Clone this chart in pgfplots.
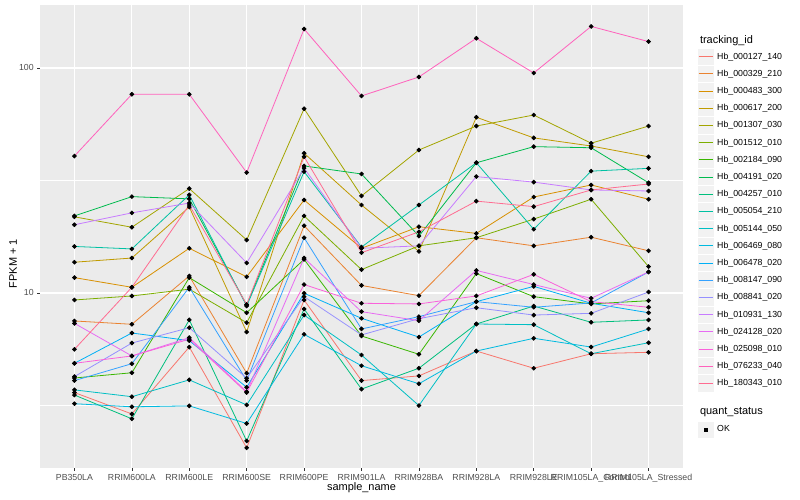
\documentclass[border=0pt]{standalone}
\usepackage{pgfplots}
\pgfplotsset{compat=1.18}
\usepackage{pgfplotstable}
\usepackage{fontspec}
\setmainfont{Liberation Sans}

% ggplot hue palette, 20 groups
\definecolor{cA}{HTML}{F8766D}
\definecolor{cB}{HTML}{EA8331}
\definecolor{cC}{HTML}{D89000}
\definecolor{cD}{HTML}{C09B00}
\definecolor{cE}{HTML}{A3A500}
\definecolor{cF}{HTML}{7CAE00}
\definecolor{cG}{HTML}{39B600}
\definecolor{cH}{HTML}{00BB4E}
\definecolor{cI}{HTML}{00BF7D}
\definecolor{cJ}{HTML}{00C1A3}
\definecolor{cK}{HTML}{00BFC4}
\definecolor{cL}{HTML}{00BAE0}
\definecolor{cM}{HTML}{00B0F6}
\definecolor{cN}{HTML}{35A2FF}
\definecolor{cO}{HTML}{9590FF}
\definecolor{cP}{HTML}{C77CFF}
\definecolor{cQ}{HTML}{E76BF3}
\definecolor{cR}{HTML}{FA62DB}
\definecolor{cS}{HTML}{FF62BC}
\definecolor{cT}{HTML}{FF6C91}
\definecolor{ggpanel}{HTML}{EBEBEB}
\definecolor{ggkey}{HTML}{F2F2F2}
\definecolor{ggtext}{HTML}{4D4D4D}
\definecolor{ggtick}{HTML}{333333}

% FPKM + 1, one row per sample, one column per tracking_id
\pgfplotstableread{
x  A    B    C    D    E    F    G    H    I    J    K    L    M    N    O    P    Q    R    S     T
0  3.61 7.51 11.7 13.7 21.8 9.31 4.19 22.0 3.52 16.1 3.71 3.22 4.87 4.08 4.25 20.1 7.33 4.87 40.6  5.62
1  2.90 7.26 10.6 14.3 19.6 9.70 4.42 26.8 2.76 15.7 3.46 3.12 6.64 4.85 5.99 22.7 5.25 5.25 76.4  10.6
2  5.75 11.9 15.8 24.1 29.1 10.4 11.7 26.2 7.59 27.3 4.11 3.15 6.14 10.6 7.01 25.1 6.33 6.23 76.4  24.6
3  2.05 4.40 11.8 6.71 17.2 7.38 8.17 8.84 2.20 8.75 3.18 2.63 3.81 4.08 4.18 13.6 3.64 3.61 34.3  8.89
4  9.31 19.9 25.9 41.8 65.9 22.0 14.1 36.7 8.49 34.6 7.98 6.55 9.97 17.6 9.63 35.9 14.3 10.9 149   40.3
5  4.08 10.8 15.8 24.6 27.0 12.7 6.44 33.8 3.74 16.0 5.30 4.75 7.72 6.92 6.51 15.8 8.26 9.00 75.1  15.1
6  4.28 9.73 19.7 15.3 43.2 16.2 5.34 17.9 4.63 24.6 3.16 3.95 6.37 7.85 7.69 16.2 7.53 8.94 91.2  18.7
7  5.52 17.6 18.4 60.4 55.2 17.6 12.2 37.9 7.28 37.9 7.28 5.52 9.15 9.15 8.60 32.9 12.6 9.70 135.5 25.6
8  4.63 16.2 26.7 48.9 61.8 21.3 9.63 44.7 8.75 19.2 7.23 6.29 10.7 8.64 7.98 31.1 10.9 12.1 95.0  24.2
9  5.37 17.7 30.2 45.0 46.3 26.1 8.94 44.2 7.41 34.8 5.37 5.75 9.00 9.03 8.12 28.7 9.47 9.15 153   28.7
10 5.45 15.4 26.1 40.3 55.2 13.1 9.24 30.9 7.59 35.8 6.01 6.92 8.17 12.4 10.1 28.4 12.4 8.64 131   30.5
}\fpkm

\pgfplotsset{
  gglegend/.style={
    legend cell align=left,
    legend style={draw=none, fill=none, inner sep=0pt, outer sep=0pt,
      row sep=-0.1bp, column sep=2.4bp,
      font=\fontsize{8.8}{10}\selectfont, nodes={inner sep=0.5bp}},
  },
}

\begin{document}
\begin{tikzpicture}
\path[use as bounding box] (0bp,0bp) rectangle (800bp,500bp);

\begin{axis}[
  at={(40bp,32bp)}, anchor=south west,
  scale only axis, width=643bp, height=463bp,
  ymode=log,
  xmin=-0.6, xmax=10.6,
  ymin=1.668, ymax=190.5,
  xtick={0,...,10},
  xticklabels={PB350LA,RRIM600LA,RRIM600LE,RRIM600SE,RRIM600PE,RRIM901LA,RRIM928BA,RRIM928LA,RRIM928LE,RRIM105LA\_Control,RRIM105LA\_Stressed},
  ytick={10,100}, yticklabels={10,100},
  minor ytick={3.1623,31.623},
  grid=both,
  axis background/.style={fill=ggpanel},
  major grid style={draw=white, line width=1.1bp},
  minor grid style={draw=white, line width=0.55bp},
  axis line style={draw=none},
  tick align=outside, tick pos=left,
  major tick length=2.75bp, minor tick length=0pt,
  tick style={draw=ggtick, line width=0.55bp},
  ticklabel style={font=\fontsize{8.8}{10}\selectfont, text=ggtext},
  every axis plot/.append style={line width=0.8bp, mark=none},
  gglegend,
  legend style={at={(1.0218,0.9071)}, anchor=north west},
  legend image code/.code={%
    \path[fill=ggkey, draw=none] (0.5bp,-8.15bp) rectangle (16.8bp,8.15bp);
    \path[draw=none, fill=none] (0bp,-8.65bp) rectangle (17.3bp,8.65bp);
    \draw[#1] (1.7bp,0bp) -- (15.6bp,0bp);},
]
\addplot[cA] table[x=x,y=A] {\fpkm}; \addlegendentry{Hb\_000127\_140}
\addplot[cB] table[x=x,y=B] {\fpkm}; \addlegendentry{Hb\_000329\_210}
\addplot[cC] table[x=x,y=C] {\fpkm}; \addlegendentry{Hb\_000483\_300}
\addplot[cD] table[x=x,y=D] {\fpkm}; \addlegendentry{Hb\_000617\_200}
\addplot[cE] table[x=x,y=E] {\fpkm}; \addlegendentry{Hb\_001307\_030}
\addplot[cF] table[x=x,y=F] {\fpkm}; \addlegendentry{Hb\_001512\_010}
\addplot[cG] table[x=x,y=G] {\fpkm}; \addlegendentry{Hb\_002184\_090}
\addplot[cH] table[x=x,y=H] {\fpkm}; \addlegendentry{Hb\_004191\_020}
\addplot[cI] table[x=x,y=I] {\fpkm}; \addlegendentry{Hb\_004257\_010}
\addplot[cJ] table[x=x,y=J] {\fpkm}; \addlegendentry{Hb\_005054\_210}
\addplot[cK] table[x=x,y=K] {\fpkm}; \addlegendentry{Hb\_005144\_050}
\addplot[cL] table[x=x,y=L] {\fpkm}; \addlegendentry{Hb\_006469\_080}
\addplot[cM] table[x=x,y=M] {\fpkm}; \addlegendentry{Hb\_006478\_020}
\addplot[cN] table[x=x,y=N] {\fpkm}; \addlegendentry{Hb\_008147\_090}
\addplot[cO] table[x=x,y=O] {\fpkm}; \addlegendentry{Hb\_008841\_020}
\addplot[cP] table[x=x,y=P] {\fpkm}; \addlegendentry{Hb\_010931\_130}
\addplot[cQ] table[x=x,y=Q] {\fpkm}; \addlegendentry{Hb\_024128\_020}
\addplot[cR] table[x=x,y=R] {\fpkm}; \addlegendentry{Hb\_025098\_010}
\addplot[cS] table[x=x,y=S] {\fpkm}; \addlegendentry{Hb\_076233\_040}
\addplot[cT] table[x=x,y=T] {\fpkm}; \addlegendentry{Hb\_180343\_010}
% points on top of all lines
\pgfplotsinvokeforeach{A,B,C,D,E,F,G,H,I,J,K,L,M,N,O,P,Q,R,S,T}{
  \addplot[forget plot, only marks, mark=*, mark size=1.9bp, draw=black, fill=black]
    table[x=x,y=#1] {\fpkm};
}
\end{axis}

% second legend: quant_status
\begin{axis}[
  at={(40bp,32bp)}, anchor=south west,
  scale only axis, width=643bp, height=463bp,
  hide axis, xmin=0, xmax=1, ymin=0, ymax=1,
  gglegend,
  legend style={at={(1.0218,0.1015)}, anchor=north west},
  legend image code/.code={%
    \path[fill=ggkey, draw=none] (0.5bp,-8.15bp) rectangle (16.8bp,8.15bp);
    \path[draw=none, fill=none] (0bp,-8.65bp) rectangle (17.3bp,8.65bp);
    \draw[#1] plot coordinates {(8.65bp,0bp)};},
]
\addplot[draw=none, mark=none, forget plot] coordinates {(0,0) (1,1)};
\addlegendimage{only marks, mark=square*, mark size=1.4bp, draw=black, fill=black}
\addlegendentry{OK}
\end{axis}

\node[anchor=west, font=\fontsize{11}{13}\selectfont] at (696.5bp,459.3bp) {tracking\_id};
\node[anchor=west, font=\fontsize{11}{13}\selectfont] at (696.5bp,87.7bp) {quant\_status};
\node[font=\fontsize{11}{13}\selectfont] at (361.5bp,12bp) {sample\_name};
\node[rotate=90, font=\fontsize{11}{13}\selectfont] at (13bp,236.5bp) {FPKM + 1};
\end{tikzpicture}
\end{document}
